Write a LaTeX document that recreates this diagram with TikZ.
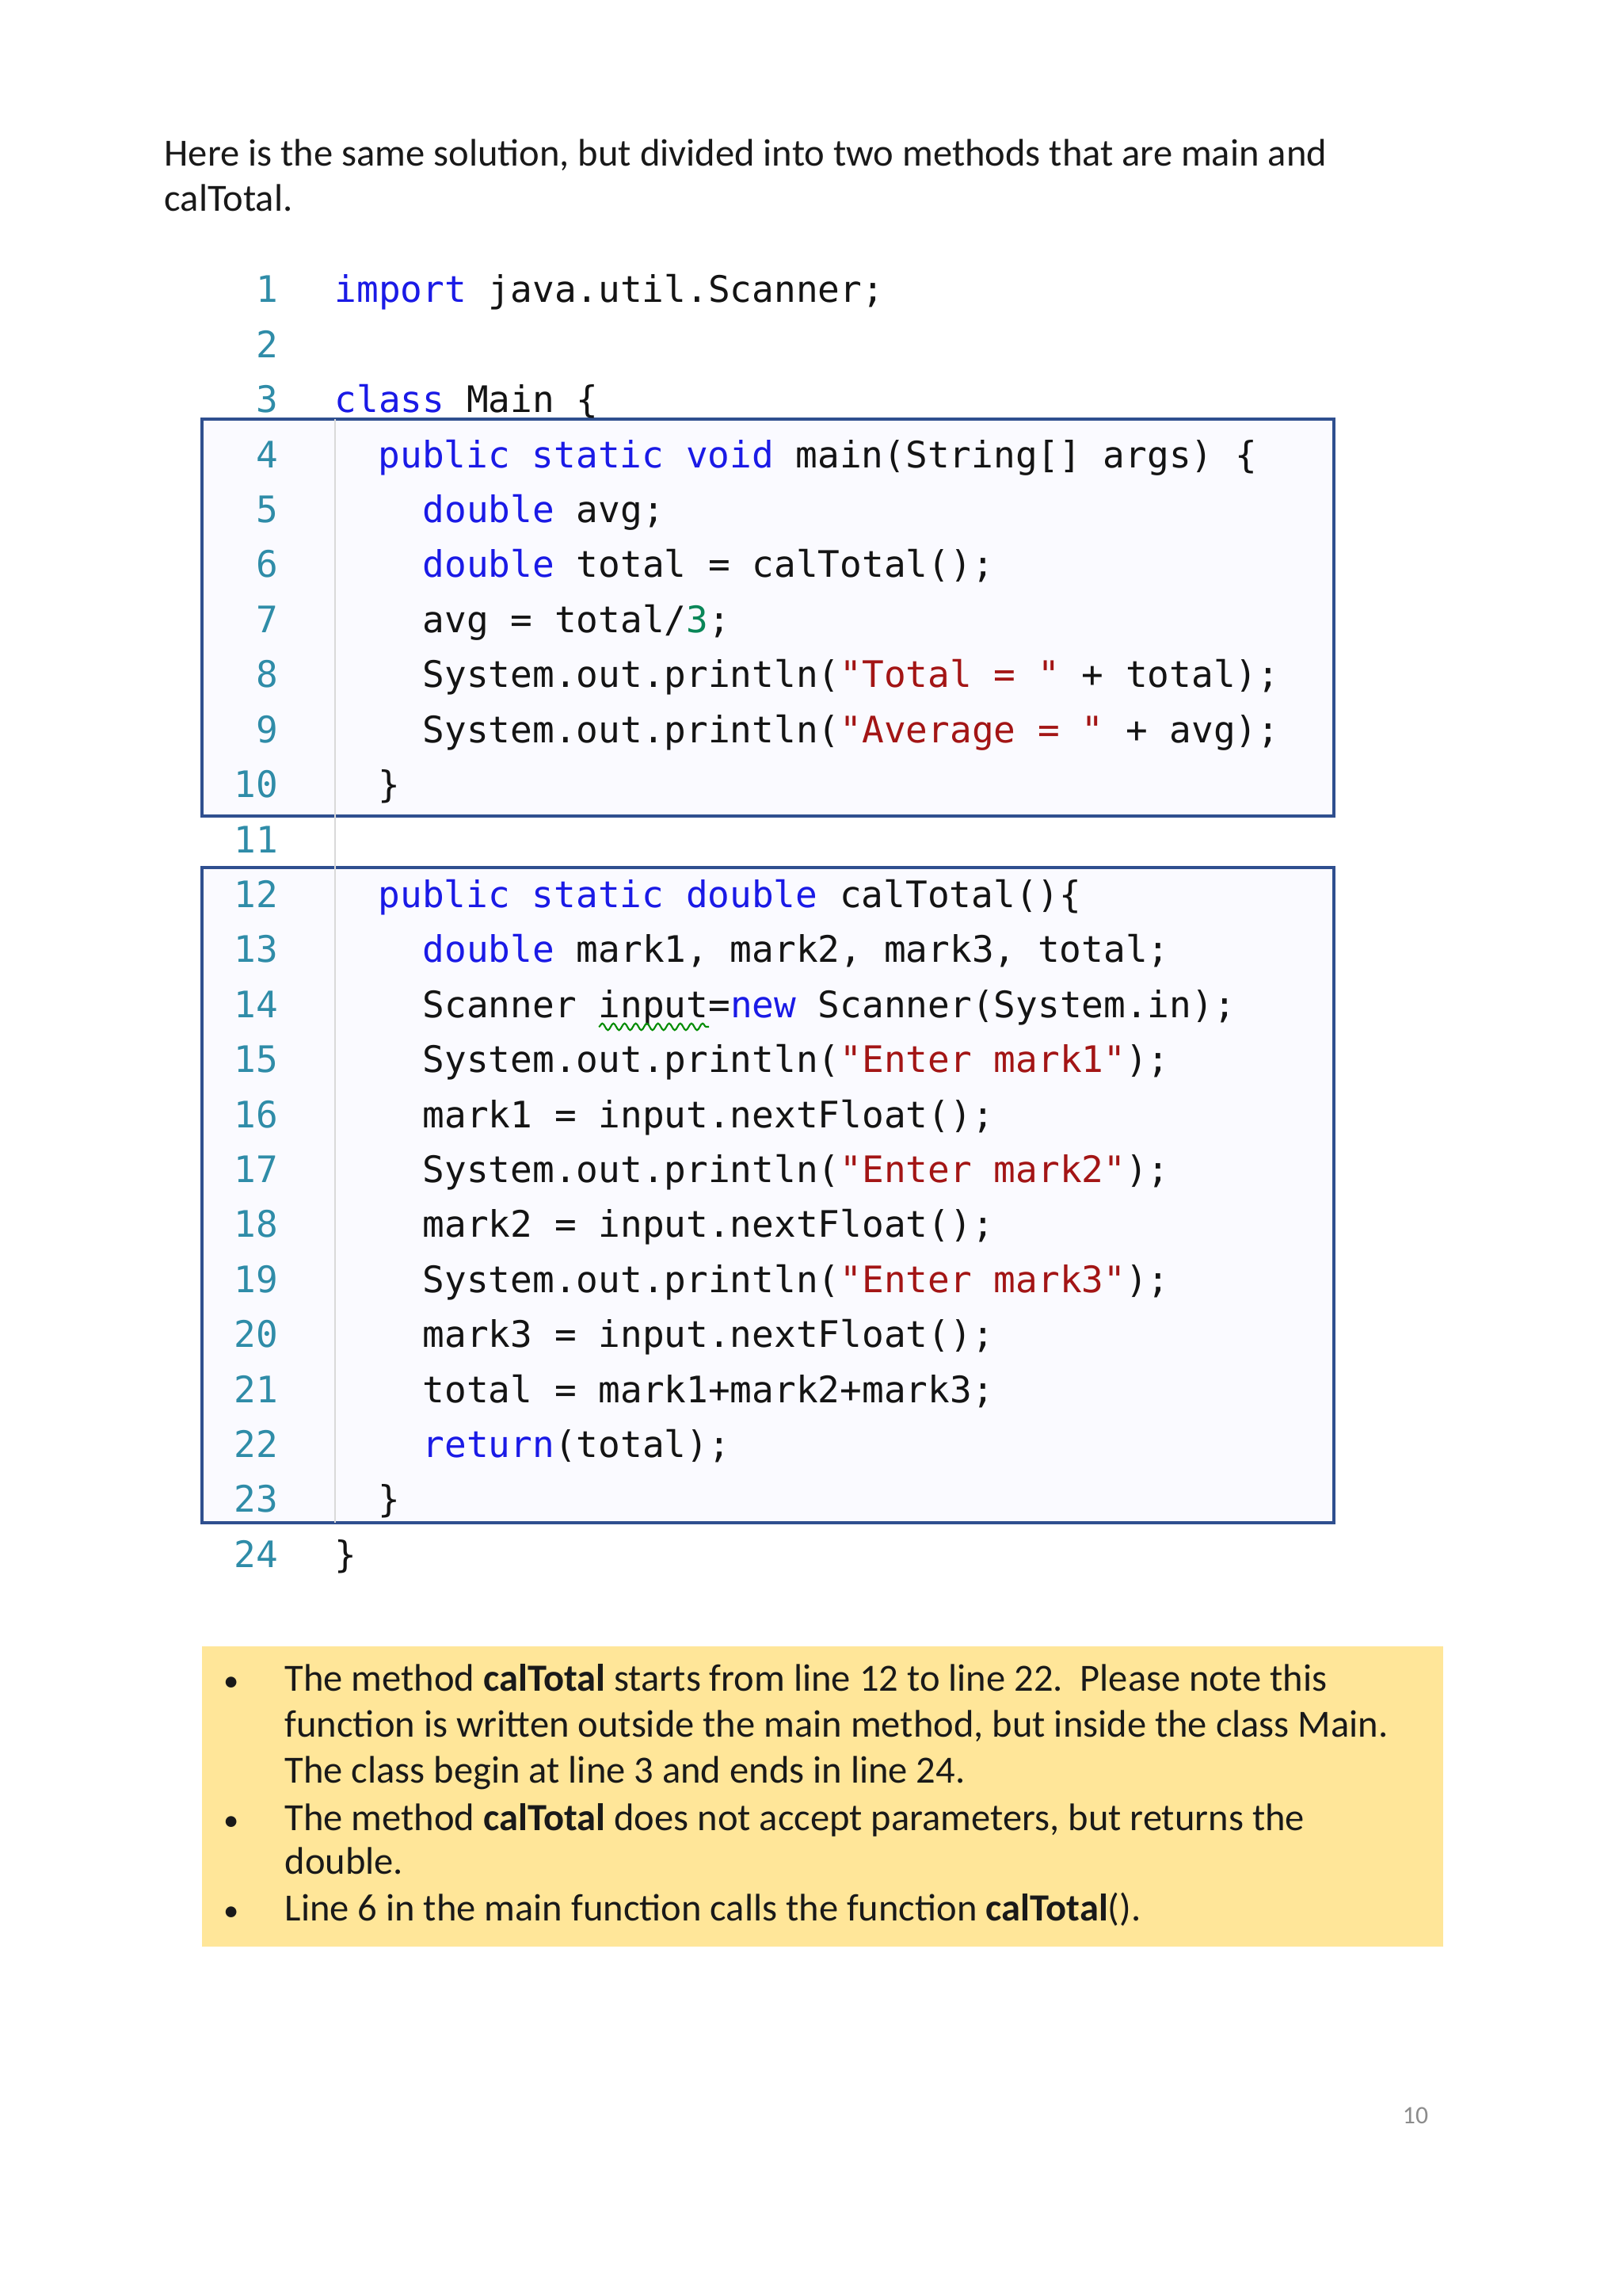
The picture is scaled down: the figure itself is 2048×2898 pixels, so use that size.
\documentclass[tikz,border=0pt]{standalone}
\usepackage{fontspec}
\setmainfont{Carlito}
\newfontfamily\codefont{DejaVu Sans Mono}
\usetikzlibrary{decorations.pathmorphing}
\definecolor{kwc}{HTML}{1A1AE6}
\definecolor{lnc}{HTML}{2F8CA8}
\definecolor{stc}{HTML}{A31515}
\definecolor{nmc}{HTML}{098658}
\definecolor{boxc}{HTML}{2F4F8F}
\definecolor{yel}{HTML}{FFE699}
\newcommand\jkw[1]{\textcolor{kwc}{#1}}
\newcommand\jstr[1]{\textcolor{stc}{#1}}
\newcommand\jnum[1]{\textcolor{nmc}{#1}}
\begin{document}
\begin{tikzpicture}[x=0.01cm,y=-0.01cm,
  code/.style={anchor=base west,inner sep=0,font=\codefont\fontsize{13.1}{15}\selectfont,text=black!92},
  lnum/.style={anchor=base east,inner sep=0,font=\codefont\fontsize{13.1}{15}\selectfont,text=lnc},
  prose/.style={anchor=base west,inner sep=0,font=\fontsize{13.8}{16}\selectfont,text=black!90},
  mbox/.style={draw=boxc,line width=1.3pt,fill=blue!2}]
\useasboundingbox (0,0) rectangle (2048,2898);
\fill[white] (0,0) rectangle (2048,2898);
% heading
\node[prose] (h1) at (207,210) {Here is the same solution, but divided into two methods that are main and};
\node[prose] (h2) at (207,267) {calTotal.};
% method boxes
\draw[mbox] (255,529) rectangle (1684,1030);
\draw[mbox] (255,1095) rectangle (1684,1922);
\draw[black!15,line width=0.8pt] (423,529) -- (423,1922);
% line numbers
\foreach \n in {1,...,24}{
  \node[lnum] (ln\n) at (352,{382+69.4*(\n-1)}) {\n};
}
\def\L#1{{382+69.4*(#1-1)}}
\node[code] (c1) at (422,\L{1}) {\jkw{import} java.util.Scanner;};
\node[code] (c3) at (422,\L{3}) {\jkw{class} Main \{};
\node[code] (c4) at (477,\L{4}) {\jkw{public} \jkw{static} \jkw{void} main(String[] args) \{};
\node[code] (c5) at (533,\L{5}) {\jkw{double} avg;};
\node[code] (c6) at (533,\L{6}) {\jkw{double} total = calTotal();};
\node[code] (c7) at (533,\L{7}) {avg = total/\jnum{3};};
\node[code] (c8) at (533,\L{8}) {System.out.println(\jstr{"Total = "} + total);};
\node[code] (c9) at (533,\L{9}) {System.out.println(\jstr{"Average = "} + avg);};
\node[code] (c10) at (477,\L{10}) {\}};
\node[code] (c12) at (477,\L{12}) {\jkw{public} \jkw{static} \jkw{double} calTotal()\{};
\node[code] (c13) at (533,\L{13}) {\jkw{double} mark1, mark2, mark3, total;};
\node[code] (c14) at (533,\L{14}) {Scanner input=\jkw{new} Scanner(System.in);};
\node[code] (c15) at (533,\L{15}) {System.out.println(\jstr{"Enter mark1"});};
\node[code] (c16) at (533,\L{16}) {mark1 = input.nextFloat();};
\node[code] (c17) at (533,\L{17}) {System.out.println(\jstr{"Enter mark2"});};
\node[code] (c18) at (533,\L{18}) {mark2 = input.nextFloat();};
\node[code] (c19) at (533,\L{19}) {System.out.println(\jstr{"Enter mark3"});};
\node[code] (c20) at (533,\L{20}) {mark3 = input.nextFloat();};
\node[code] (c21) at (533,\L{21}) {total = mark1+mark2+mark3;};
\node[code] (c22) at (533,\L{22}) {\jkw{return}(total);};
\node[code] (c23) at (477,\L{23}) {\}};
\node[code] (c24) at (422,\L{24}) {\}};
\draw[green!55!black,line width=0.6pt,decorate,decoration={snake,amplitude=1.2pt,segment length=4pt}] (756,1296) -- (895,1296);
% notes
\fill[yel] (255,2078) rectangle (1822,2457);
\foreach \y in {2134,2310,2424}{ \node[prose,font=\fontsize{11}{12}\selectfont] at (282,\y) {•}; }
\node[prose] (b1) at (359,2134) {The method \textbf{calTotal} starts from line 12 to line 22.\ \ Please note this};
\node[prose] (b2) at (359,2192) {function is written outside the main method, but inside the class Main.};
\node[prose] (b3) at (359,2250) {The class begin at line 3 and ends in line 24.};
\node[prose] (b4) at (359,2310) {The method \textbf{calTotal} does not accept parameters, but returns the};
\node[prose] (b5) at (359,2365) {double.};
\node[prose] (b6) at (359,2424) {Line 6 in the main function calls the function \textbf{calTotal}().};
\node[anchor=base,inner sep=0,font=\fontsize{9}{10}\selectfont,text=black!45] (pg) at (1787,2680) {10};
\end{tikzpicture}
\end{document}
